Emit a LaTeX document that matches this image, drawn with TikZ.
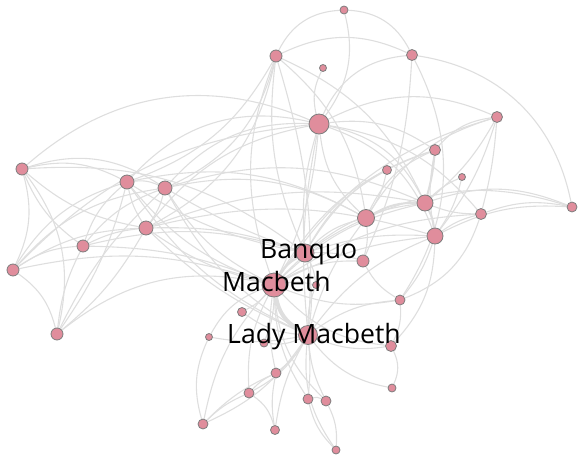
\documentclass[tikz,border=0pt]{standalone}
\usepackage{fontspec}
\setmainfont{Open Sans}
\pgfdeclarelayer{bg}
\pgfsetlayers{bg,main}
\definecolor{edgec}{RGB}{222,222,222}
\definecolor{nodefill}{RGB}{224,141,156}
\definecolor{nodeline}{RGB}{125,125,125}
\begin{document}
\begin{tikzpicture}[x=1pt,y=-1pt,
  vert/.style={circle,draw=nodeline,fill=nodefill,line width=0.8pt,inner sep=0pt},
  lk/.style={draw=edgec,line width=1.1pt},
  lbl/.style={anchor=base west,inner sep=0pt,font=\fontsize{26.6}{30}\selectfont,text=black}]
\useasboundingbox (0,0) rectangle (578,455);
\foreach \n/\x/\y/\r in {
  n1/344/10/4, n2/276/56/6, n3/412/55/5.5, n4/323/68/3.5, n5/319/124/10,
  n6/497/117/5.5, n7/435/150/5.5, n8/387/170/4.5, n9/462/177/3.5, n10/425/203/8,
  n11/572/207/5, n12/481/214/5.5, n13/366/218/8.5, n14/435/236/8,
  n15/22/169/6, n16/127/182/7, n17/165/188/7, n18/146/228/7, n19/83/246/6,
  n20/13/270/6, n21/57/334/6, ban/305/253/9, n23/363/261/6, mac/274/285/12,
  n25/316/285/3.5, n26/400/300/5, n27/242/312/4.5, lady/308/335/9.5,
  n29/209/337/3.5, n30/264/343/4, n31/391/346/5.5, n32/276/373/5,
  n33/249/393/5, n34/392/388/4, n35/308/399/5, n36/326/401/5,
  n37/203/424/5, n38/275/430/4.5, n39/336/450/4}
  \node[vert,minimum size={2*\r pt}] (\n) at (\x,\y) {};
\begin{pgfonlayer}{bg}
\foreach \a/\b/\s in {
  n2/n1/30, n1/n3/30, n1/n5/25, n2/n3/25, n5/n3/30, n3/n11/35, n3/n26/30, n3/n23/10,
  n5/n4/20, mac/n2/20, ban/n2/15, n2/n18/25, n2/n17/25, n2/n16/20, n2/n13/20, n2/n10/20, n2/lady/10,
  n15/n5/32, n16/n5/30, n17/n5/25, n18/n5/20, n20/n5/20, n5/mac/10, n5/ban/-10, n5/lady/-8,
  n5/n13/-20, n5/n10/25, n5/n14/25, n5/n7/20, n5/n6/25, n5/n12/20, n8/ban/-15,
  n7/n6/20, n6/n10/10, n6/n14/10, n6/n12/5, n13/n6/20, n7/n13/-20, n7/n14/-10, mac/n7/20,
  n8/n13/10, n9/n10/-10, n9/n14/10, n10/n12/-10, n10/n11/20, n13/n11/20, n12/n11/15,
  n14/n11/15, n14/n12/10, n12/n26/25, n14/n26/10, n14/n31/20, n13/n23/10, n14/lady/-15,
  n13/lady/-10, mac/n10/15, mac/n14/10, mac/n13/10, ban/n13/15, ban/n10/15, ban/n14/10,
  mac/n12/15, ban/n7/20, mac/n6/20,
  n15/n16/20, n15/n17/25, n15/n18/-15, n15/n19/-15, n15/n20/20, n15/n21/25, n15/ban/20,
  n16/n17/15, n16/n18/-10, n16/n19/-15, n20/n16/20, n21/n16/-10, n17/n18/10, n19/n17/15,
  n20/n17/20, n21/n17/10, n19/n18/10, n20/n18/15, n21/n18/-10, n20/n19/15, n21/n19/10,
  n20/n21/20, n21/mac/25, n16/mac/-15, n17/mac/-15, n18/mac/-10, n16/ban/-10, n17/ban/-5,
  n18/ban/10, n19/mac/10, n20/mac/15, n19/ban/15, n17/lady/-15, n16/lady/-15, n18/lady/-10,
  n17/n13/20, n16/n13/20, n18/n10/15, n17/n10/20, n18/n14/15,
  ban/lady/10, mac/n23/15, ban/n23/10, mac/n25/10, lady/n25/10, mac/n27/10, n27/lady/-15,
  n29/mac/20, n29/lady/-10, mac/n30/10, lady/n30/15, mac/n26/-15, lady/n26/15, mac/n31/-20,
  lady/n31/-15, lady/n34/-20, n31/n34/25, n26/n31/15, n23/n26/-15, lady/n32/10, mac/n32/-10,
  lady/n33/15, mac/n33/-15, lady/n35/5, lady/n36/-10, mac/n35/-15, mac/n36/-20, lady/n38/-10,
  lady/n39/-20, n37/n29/20, n37/mac/15, n37/lady/-15, n37/n33/10, n37/n32/10, n33/n38/20,
  n32/n38/-10, n35/n39/-15, n36/n39/15, n35/n36/20, n33/n32/10, ban/n25/10}
  \draw[lk] (\a) to[bend left=\s] (\b);
\draw[lk,line width=4pt] (lady) to[bend left=25] (mac);
\draw[lk,line width=2.5pt] (mac) to[bend left=15] (ban);
\draw[lk,line width=2pt] (n7) to[bend left=5] (n10);
\draw[lk,line width=2pt] (n13) to[bend left=15] (n10);
\draw[lk,line width=2pt] (n10) to[bend left=10] (n14);
\end{pgfonlayer}
\node[lbl] (tban) at (260,258) {Banquo};
\node[lbl] (tmac) at (222,291) {Macbeth};
\node[lbl] (tlady) at (227,343) {Lady Macbeth};
\end{tikzpicture}
\end{document}
